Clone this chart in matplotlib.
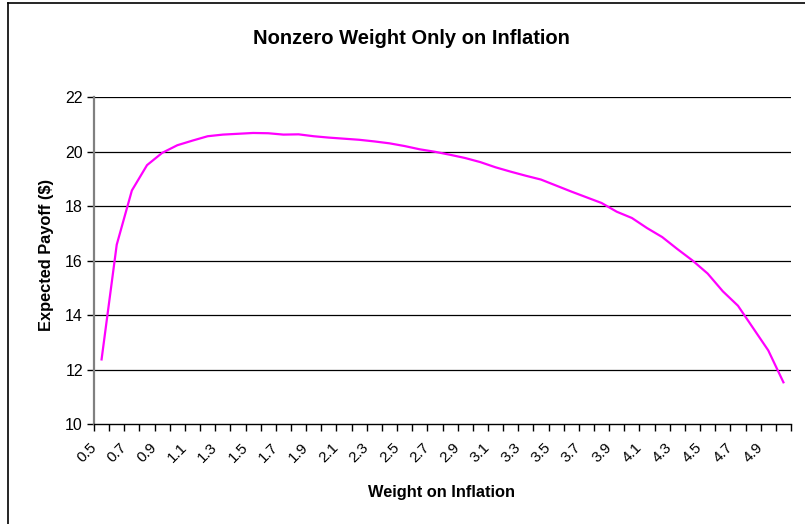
import matplotlib
matplotlib.use('Agg')
import matplotlib.pyplot as plt
from matplotlib.lines import Line2D
from matplotlib.transforms import ScaledTranslation

# Weight on inflation (categories) and expected payoff
weights = [round(0.5 + 0.1 * i, 1) for i in range(46)]
payoff = [
    12.37, 16.58, 18.57, 19.50, 19.95, 20.23, 20.40, 20.56, 20.62, 20.65,
    20.68, 20.67, 20.62, 20.63, 20.56, 20.51, 20.47, 20.43, 20.37, 20.30,
    20.20, 20.08, 19.99, 19.88, 19.76, 19.61, 19.42, 19.26, 19.11, 18.97,
    18.75, 18.53, 18.32, 18.11, 17.79, 17.56, 17.19, 16.86, 16.42, 16.00,
    15.52, 14.87, 14.34, 13.52, 12.70, 11.53,
]
y_ticks = [10, 12, 14, 16, 18, 20, 22]

plt.rcParams['font.family'] = ['Liberation Sans', 'DejaVu Sans']

fig = plt.figure(figsize=(8.05, 5.24), dpi=100)
ax = fig.add_axes([94 / 805, 100 / 524, 697 / 805, 327 / 524])

# outer chart frame (only left and top visible in the reference)
fig.add_artist(Line2D([8 / 805, 8 / 805], [0, 1 - 3 / 524], transform=fig.transFigure,
                      color='black', lw=1.2))
fig.add_artist(Line2D([8 / 805, 1], [1 - 3 / 524, 1 - 3 / 524], transform=fig.transFigure,
                      color='black', lw=1.2))

x = list(range(len(weights)))
ax.plot(x, payoff, color='#FF00FF', lw=1.6, zorder=3)

ax.set_xlim(-0.5, len(weights) - 0.5)
ax.set_ylim(10, 22)
ax.set_yticks(y_ticks)
ax.set_yticklabels([str(v) for v in y_ticks], fontsize=11.5)
for v in y_ticks[1:]:
    ax.axhline(v, color='black', lw=0.9, zorder=1)

# category labels every other value, ticks at category boundaries
ax.set_xticks(x[::2])
ax.set_xticklabels([f'{w:.1f}' for w in weights[::2]], rotation=45, ha='center', va='center',
                   rotation_mode='anchor', fontsize=11)
ax.set_xticks([i - 0.5 for i in range(len(weights) + 1)], minor=True)
ax.tick_params(axis='x', which='major', length=0, pad=0)
ax.tick_params(axis='x', which='minor', length=5, width=1, color='black', direction='out')
ax.tick_params(axis='y', length=5, width=1, color='black', direction='out', pad=3)
shift = ScaledTranslation(-0.15, -0.29, fig.dpi_scale_trans)
for lab in ax.get_xticklabels():
    lab.set_transform(lab.get_transform() + shift)

for s in ['top', 'right']:
    ax.spines[s].set_visible(False)
ax.spines['left'].set_color('#808080')
ax.spines['left'].set_linewidth(1.6)
ax.spines['bottom'].set_color('black')
ax.spines['bottom'].set_linewidth(1.0)

fig.text(411 / 805, 1 - 39 / 524, 'Nonzero Weight Only on Inflation', ha='center', va='center',
         fontsize=14.5, fontweight='bold')
fig.text(441 / 805, 1 - 492 / 524, 'Weight on Inflation', ha='center', va='center',
         fontsize=11.8, fontweight='bold')
fig.text(46 / 805, 1 - 255 / 524, 'Expected Payoff ($)', ha='center', va='center',
         rotation=90, fontsize=11.8, fontweight='bold')

fig.savefig('out.png', dpi=100)
